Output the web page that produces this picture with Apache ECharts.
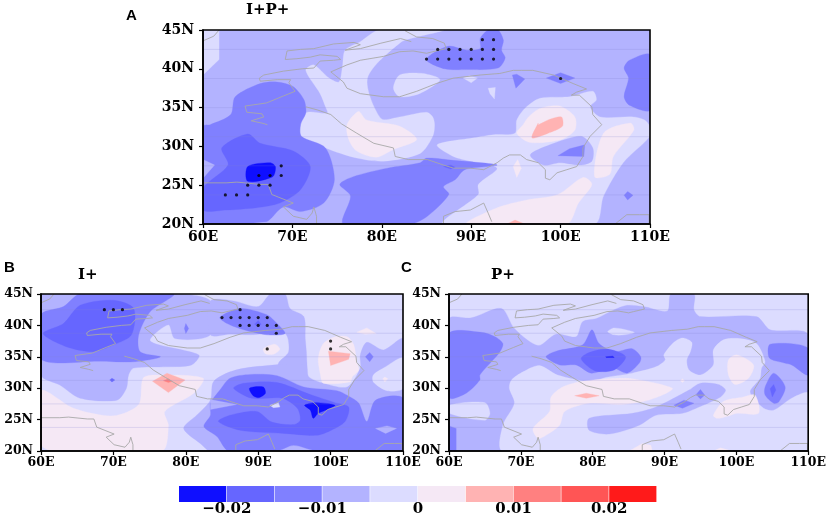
<!DOCTYPE html>
<html><head><meta charset="utf-8">
<style>html,body{margin:0;padding:0;background:#fff}#c{width:829px;height:518px}</style>
<script src="https://cdn.jsdelivr.net/npm/echarts@6/dist/echarts.min.js"></script>
</head><body><div id="c"></div>
<script>
// colour classes, low to high
const levelColors=['#0f0fff','#6666ff','#8080ff','#b3b3ff','#dcdcff','#f5e8f5','#ffb3b3','#ff8080','#ff5555','#ff1a1a'];
const levelEdges=[-0.025,-0.02,-0.015,-0.01,-0.005,0,0.005,0.01,0.015,0.02,0.025];
const whole=[[60,20],[110,20],[110,45],[60,45]];
// filled contour regions: [colour class, [lon,lat]...], painted in order
const regionsA=[
[3,whole],
[4,[[60,45],[61.8,45],[61.8,41.2],[60,39.2]]],
[4,[[79.7,45],[86.9,45],[84.3,44.2],[82.1,43.4],[78.4,38.8],[79.9,33.6],[82,33.8],[85,34.4],[85.7,33.8],[85.9,32.8],[85.7,31.3],[84.3,29.1],[80.2,28.1],[77.2,28.5],[73.7,29.8],[71,31.3],[71.5,34.3],[73.9,34.3],[73.7,35.1],[73.1,36.8],[71.5,39.8],[72.4,40.5],[74.1,38.8],[75.2,38.3],[75.6,40.3],[75.9,42.4],[77.6,43.5]]],
[4,[[81.3,37.5],[82,39.2],[84.6,39.4],[86.5,38.6],[84.2,36.8],[82,36.4]]],
[5,[[76.1,32.8],[77.4,34.5],[78.3,33.4],[82,32.6],[83.9,30.9],[81.3,29.6],[79.4,28.6],[77.2,29.4],[76.3,30.9]]],
[4,[[86.2,30.2],[90.3,31.1],[92.5,31.5],[94.9,31.7],[95.1,33.4],[96,34.9],[97.7,36.2],[101,36.4],[103.6,37.1],[104,36],[103.3,35.1],[104.4,33.8],[108.1,33.8],[109.4,33.4],[110,32.5],[110,31.3],[107,27.9],[104.8,23.6],[103.8,20],[86.9,20],[90.8,23.8],[90.8,25.1],[92.9,27.2],[89.9,28.1],[88,28.7]]],
[3,[[96.6,28.9],[98.8,30.2],[102.3,31.3],[103.6,29.8],[103.5,28.1],[102.2,27.6],[99.9,27.9],[98.1,27.6]]],
[2,[[99.7,28.8],[101,29.7],[102.7,30.2],[102.6,28.7]]],
[5,[[95.2,28.3],[95.6,27.2],[95.1,26],[94.7,27.4]]],
[5,[[104.8,31.7],[107.8,33],[108.2,32.1],[105.9,28.7],[105.5,26.4],[103.8,26.1]]],
[5,[[99.7,23.8],[102.5,26],[103.5,25.1],[102,22.7],[100.7,20],[89.5,20],[92.9,22.1],[96.2,23.1]]],
[6,[[94,20],[94.9,20.5],[96,20]]],
[5,[[96.4,33.8],[97.7,34.9],[99.9,35.2],[101.6,33.8],[101.6,32.1],[100.1,30.9],[96.6,30.5],[95.1,31.7],[95.8,32.8]]],
[6,[[97.5,32.8],[98.8,33.5],[100.1,33.8],[100.2,32.6],[98.6,31.7],[96.8,31.1],[97.5,33]]],
[2,[[107.1,40.1],[107.7,41.1],[110,41.8],[110,34.7],[107.7,35.3],[107.1,36.4],[107.6,38.8]]],
[2,[[94.6,39.2],[95.1,39.3],[96,38.7],[95,37.5]]],
[2,[[98.4,38.8],[100,39.5],[101.6,38.8],[100,38.1]]],
[4,[[89.1,38.8],[89.8,39.1],[90.7,38.8],[90,38.2]]],
[4,[[91.9,37.5],[92.7,37.6],[92.6,36.1],[92.1,36.8]]],
[2,[[85,41.2],[87.4,42.9],[89.5,42.4],[91,42.6],[91,43.9],[91.9,45],[93,45],[93.6,43.7],[93.4,42.4],[93.8,41.4],[93,40.1],[89.5,39.9],[87,40]]],
[2,[[84.3,27.9],[80.6,27.2],[76.8,26.1],[75.3,25.1],[76.5,23.6],[75.7,20],[83.2,20],[85.1,21],[87.5,23.8],[86.9,24.8],[88.2,25.7],[89.3,27],[92.9,27.6],[88,28.2],[85,28.5]]],
[1,[[86.9,27.4],[87.7,27.6],[88.2,27.3],[87.7,27.1]]],
[2,[[107.1,23.7],[107.5,24.2],[108.1,23.7],[107.5,23.1]]],
[2,[[60,32.6],[60.8,32.8],[63.1,34.1],[63.6,36.4],[66.4,38.1],[68.3,38.3],[70.1,37.7],[71.3,36],[71.5,34.3],[70.9,32.8],[71,31.3],[73.7,29.8],[74.7,25.7],[73.5,22.7],[70.9,21.6],[69,22.2],[67.5,20.6],[67.1,20.3],[60,20.3]]],
[3,[[60,28.3],[61.3,27.6],[60,25.9]]],
[1,[[60,24.6],[62.8,27.6],[62.1,29.8],[65,31.6],[66.4,30.4],[70.1,29.4],[72,27.4],[70.9,24.4],[68.6,22.7],[66,22.1],[62.6,21.8],[60,21.8]]],
[0,[[65,27.4],[67.5,27.9],[68.1,27.4],[67.8,26.1],[65,25.5]]]
];
const regionsB=[
[4,whole],
[5,[[60,29.6],[64.5,26.8],[70,25.6],[73.5,27.4],[74.1,31.6],[75.9,32.1],[82.4,31.6],[81.1,29.2],[77.1,26.3],[77.6,24.1],[76.7,20],[61.9,20],[60,21]]],
[6,[[75.4,31.1],[77.4,32.4],[79.9,31.3],[77.6,29.3]]],
[7,[[76.9,31.2],[77.6,31.5],[78.1,31.1],[77.6,30.9]]],
[3,[[60,45],[78.5,45],[83.4,43.9],[83.4,38.5],[78.5,37.9],[77.6,40.1],[75.1,37.5],[81.8,35.3],[80.8,33.7],[77.4,33.4],[72.8,33.2],[72.1,32.1],[71.8,30],[70.5,28.1],[65.4,28.4],[62.6,30.5],[60,32.1]]],
[3,[[83.4,43.9],[86.6,43.9],[90,43],[91.7,45],[93.7,45],[94.4,42.7],[96.3,41.4],[96.5,37.9],[96.7,34.8],[96.5,32.1],[92.8,32.1],[92.8,34],[94.2,35.8],[93.7,38.7],[88.9,38.5],[86.1,38.6],[83.4,38.5]]],
[3,[[79.7,23.6],[81.5,25.7],[83.4,28.1],[83.8,31],[86.1,32.6],[89.4,33.4],[96.5,33.7],[97,31.8],[99,30.8],[102.3,30.2],[104.1,33.2],[104.1,35.3],[105,37.3],[107.3,36.1],[110,37.8],[110,20],[83.4,20],[82,21.2]]],
[4,[[105.9,32.1],[107.3,33.2],[110,34.8],[110,30],[107.8,29.6],[105.9,31]]],
[5,[[107.2,31.5],[107.5,31.8],[107.9,31.5],[107.5,31]]],
[2,[[104.8,35],[105.4,35.7],[105.9,35],[105.4,34.2]]],
[5,[[98.3,34.8],[99,37.1],[100.6,38.2],[102.3,38.2],[103.2,36.9],[103.6,34.2],[103.9,32.9],[103,31.8],[102.7,31],[99,30.8],[98.6,32.1]]],
[6,[[99.7,35.9],[102.7,35.5],[102.5,34.6],[100,33.6]]],
[2,[[84.7,41.3],[87.5,42.7],[91.2,41.7],[92.6,40.3],[93.7,38.7],[91.2,38.5],[88,39.3],[85.7,40.3]]],
[1,[[89.5,40.2],[90,40.8],[90.4,40.2],[90,39.8]]],
[5,[[90.7,36.3],[92.3,37],[93,36.2],[92.1,35.4],[91,35.5]]],
[5,[[103.6,38.9],[105,39.6],[106.3,38.7],[104.8,38.6]]],
[2,[[60,41.7],[63.1,43],[65.4,45],[78.3,45],[75.1,42.2],[73.5,38.5],[73.7,35.8],[76.5,35],[72.8,34.2],[68.2,34.3],[60,34.6]]],
[1,[[60.3,38.7],[63.1,40.3],[65.4,43.2],[70,44],[72.8,42.7],[72.5,38.5],[70,36.9],[67.2,35.8],[63.5,36.6]]],
[2,[[79.8,39.5],[80,40.3],[80.4,39.5],[80,38.7]]],
[1,[[69.5,31.3],[69.8,31.6],[70.2,31.3],[69.8,31]]],
[2,[[83.4,27.6],[84.7,29.7],[86.1,31.6],[88.9,32.2],[92.6,32],[96.3,30.2],[100.9,29.6],[102.7,28.6],[103.9,27.6],[105,24.7],[106.2,28.1],[110,28.4],[110,20],[98.1,20],[94.9,20.9],[92.6,20],[85.9,20],[84.3,22.3],[82.5,23.9],[83.4,25.7]]],
[3,[[83.4,28.2],[87,27.4],[83.4,26.6]]],
[1,[[86.6,30],[88,30.8],[92.6,30.9],[97.2,29],[100.6,27.7],[102.5,27],[102,24.7],[99.9,23.2],[98.1,22.5],[93.5,22.8],[87.5,23.3],[84.5,24.7],[86.1,25.7],[89.8,26.3],[91.9,24.6],[94.9,24.2],[95.8,24.9],[95.4,26.8],[93.3,28.4],[89.1,28.4]]],
[0,[[88.8,30],[90.7,30.2],[91,29.2],[90.1,28.5],[89.3,28.8]]],
[0,[[96.4,27.3],[97.9,27.7],[100.6,27.3],[99.3,26.5],[98.3,26],[97.6,25.2],[97.2,26.5]]],
[4,[[91.6,27.3],[92.8,27.7],[93,27],[92.1,26.9]]],
[3,[[106.2,23.6],[107.8,24],[109.1,23.6],[107.6,22.8]]]
];
const regionsC=[
[4,whole],
[3,[[60,41],[63.1,41.2],[67.3,42.7],[69.1,39.5],[72.4,36.8],[74.9,38.6],[77.7,38.2],[78.6,40.6],[80.5,41.1],[83,42.5],[84.8,43.2],[87.1,43],[90.4,42.3],[90.9,45],[94.1,45],[94.1,42.5],[95,41.4],[102.8,41.4],[104.7,39.3],[110,38.5],[110,20],[60,20]]],
[4,[[82.1,39],[83,39.6],[85.8,38.9],[84.4,38.5],[83,38.5]]],
[4,[[68.7,31.3],[70.3,32.6],[72.6,33.6],[75.1,32.1],[79.8,31],[81.8,31.7],[85.5,32.4],[88.8,33.4],[90.1,34.5],[89.9,35.3],[91.3,37.3],[92.5,38],[93.8,37.3],[93.6,35.8],[93.1,34.5],[93.4,32.9],[95,32.1],[96.8,33.7],[96.8,36.1],[98.2,37.7],[100.5,37.9],[102.8,37.1],[104,34.2],[103.5,33.2],[103.3,31.6],[101.9,29.4],[103.8,26.8],[105.2,26.5],[107.7,28.4],[110,29.2],[110,20],[67.5,20],[67.5,24.1],[69.1,27.6],[68.4,30]]],
[5,[[71.7,23.6],[74,26.3],[74.2,28.6],[75.8,30.2],[78.1,31],[82.1,31.5],[85.5,31.5],[91.1,30],[89.7,28.9],[87.1,27.9],[83.7,27.4],[79.5,27.6],[76.1,26.3],[75.4,24.1],[73.5,22.5],[72.4,22]]],
[6,[[77.5,28.8],[79.1,29.2],[80.9,28.8],[79.1,28.4]]],
[5,[[92.2,31.2],[92.5,31.5],[92.8,31.2],[92.5,30.9]]],
[5,[[96.8,25.7],[98.2,27.9],[101,28.6],[102.6,28.9],[103.1,26],[100.1,26],[98.7,25.5],[97.3,25.2]]],
[5,[[98.9,34.5],[100.1,35.3],[102.4,33.7],[101.7,31.6],[99.8,30.6],[98.9,32.1]]],
[5,[[85.1,20],[86.9,21.2],[88.1,20.9],[88.3,20]]],
[5,[[96.8,20],[97.8,20.5],[99.4,20]]],
[3,[[79.5,25.2],[85.5,26],[88.8,27],[93.4,29.7],[95,30.8],[97.5,30.6],[98.5,29.7],[97.8,28.6],[94.8,27],[92.5,26],[88.8,25.7],[86.5,24.1],[82.3,22.7],[79.5,23.3]]],
[2,[[91.3,27.3],[92.7,28.1],[94.1,27.6],[92.5,26.8]]],
[2,[[94.4,29],[95,29.8],[95.6,28.9],[95,28.3]]],
[4,[[60,27.3],[65,27.7],[65.7,26],[65,24.9],[60,26]]],
[2,[[60,24],[61,23.6],[61,20],[60,20]]],
[2,[[60,38.7],[64.5,38.9],[66.4,38.2],[67.5,37.1],[67.1,35.8],[65.9,34.2],[64.3,32.1],[64.3,31.3],[62.4,29.2],[60,28.5]]],
[2,[[104.7,37],[110,36.4],[110,32.1],[107.7,33.7],[106.7,34],[104.6,34.8]]],
[2,[[73.5,35],[74.9,35.9],[78.6,36.9],[79.9,39.3],[80.9,37.1],[83,35.8],[85.5,36.3],[86.7,35],[86.5,34],[84.8,32.4],[82.8,33.2],[79.8,32.4],[77.7,33.7],[75.4,33.7]]],
[1,[[78.4,34.8],[79.8,35.8],[82.3,36.2],[84.6,35],[83,32.9],[80.5,32.7],[79.1,33.7]]],
[0,[[81.8,35],[82.8,35.1],[83,34.9],[81.9,34.9]]],
[2,[[104,30.2],[105.2,32.4],[106.8,30.2],[105.9,27.8],[105.2,27.6],[104,28.9]]],
[1,[[104.7,29.9],[105.2,30.6],[105.5,29.7],[105,28.6]]]
];
// significance dots [lon,lat]
const dotsA=[[91.25,43.75],[92.5,43.75],[86.25,42.5],[87.5,42.5],[88.75,42.5],[90,42.5],[91.25,42.5],[92.5,42.5],[85,41.25],[86.25,41.25],[87.5,41.25],[88.75,41.25],[90,41.25],[91.25,41.25],[92.5,41.25],[100,38.75],[68.75,27.5],[66.25,26.25],[67.5,26.25],[68.75,26.25],[65,25],[66.25,25],[67.5,25],[62.5,23.75],[63.75,23.75],[65,23.75]];
const dotsB=[[68.75,42.5],[70,42.5],[71.25,42.5],[87.5,42.5],[85,41.25],[86.25,41.25],[87.5,41.25],[88.75,41.25],[90,41.25],[91.25,41.25],[87.5,40],[88.75,40],[90,40],[91.25,40],[92.5,40],[92.5,38.75],[91.25,36.25],[100,37.5],[100,36.25]];
const dotsC=[];
// country outlines [lon,lat]
const outlines=[
[[60,43.6],[61.2,44.2],[61.8,45]],
[[69.2,41.2],[69.4,42.3],[70.9,42.5],[72.4,42.6],[74.6,43.2],[76.9,43.4],[77.6,43.1],[75.9,42.4],[77.6,42.6],[79.9,43.3],[82.1,43.9],[83.3,43.5]],
[[69.2,41.2],[70.5,41.3],[72,41.5],[73.1,41.8],[75,41.6],[75.4,41.2],[74.6,41.1],[73.1,41],[72.4,40.1],[71.1,40],[69,39.7],[66.8,39.2],[66.3,38.8],[66.4,38.4],[68.3,38.6],[69.8,38.6],[69.6,38.2],[70.3,37.1],[69,36.5],[67.1,35.6],[64.7,35.2],[64.9,34.4],[66.6,34.2],[66.8,33.8],[65.4,33.3],[66.6,33],[67.2,32.8]],
[[71.5,35.1],[72.8,34.7],[74.3,34.1],[75,33.4],[75.5,32.9],[77.2,31.7],[79.1,30.4],[81.3,29.8],[81.5,28.7],[83,28.3],[85.1,28.3],[86.9,27.6],[88,27.2],[89.9,27.2],[91.4,27],[92.9,27.9],[93.6,28.5],[94.3,28.9],[95.5,28.9],[96.2,28.3],[97.5,27.9],[98.3,27],[98.3,25.9],[98.8,25.7],[99.6,26.6],[100.7,27],[101.8,27.4],[102.5,28.7],[102.5,29.8],[103.3,31.3],[104.6,32.8],[103.6,34.1],[103.5,35.1],[102.1,36.6],[101.2,36.6],[101.8,37],[102.9,37.4],[101.4,38.1],[99.2,39.2],[96.9,39.8],[95.6,39.8],[94.7,39.8],[93.2,39.4],[91,39.2],[88,38.8],[86.1,38.1],[83.9,37.1],[82,36.4],[80.2,36.4],[77.6,36.8],[76.1,37.5],[75.7,38.3],[74.3,39.6],[76.1,40.5],[77.6,41.1],[80.2,41.6],[82,42.2],[83.5,42.3],[85,42],[85.7,42.2],[87.2,42.6],[87,43.3],[85.7,43.9],[83.9,44.1],[82.6,44.9]],
[[60,25.3],[62.6,25.3],[63.8,25.4],[66.4,25.1],[67.3,25.1],[67.7,23.8],[70.1,22.7],[69,22.2],[70.1,21],[71.6,20.6],[72.2,21.4],[72.4,22.2],[72.7,21],[72.7,20.1]],
[[86.9,20.1],[86.9,21],[88.2,21.6],[89.9,21.8],[91.4,22.7],[91.9,21.4],[92.3,20.3]],
[[106.2,20.1],[107.4,21.2],[108.8,21.2],[109.9,21.2],[109.9,20.1]]
];
const faintLats=[42.5,38.75,35,31.25,27.5,23.75];
const xTicks={min:60,max:110,interval:10};
const yTicks={min:20,max:45,interval:5};
const barLabels=[-0.02,-0.01,0,0.01,0.02];

const SERIF='"DejaVu Serif"';
const panels=[
 {left:203,top:30,width:447,height:194,regions:regionsA,dots:dotsA,font:14,xm:6,ym:9},
 {left:41,top:294,width:362,height:157,regions:regionsB,dots:dotsB,font:12.5,xm:5,ym:8},
 {left:449,top:294,width:361,height:157,regions:regionsC,dots:dotsC,font:12.5,xm:5,ym:8}
];
const grids=[],xAxes=[],yAxes=[],series=[];
panels.forEach((p,i)=>{
 grids.push({left:p.left,top:p.top,width:p.width,height:p.height,show:true,z:6,borderColor:'#000',borderWidth:1.6,backgroundColor:'transparent'});
 const lbl={color:'#000',fontFamily:SERIF,fontWeight:'bold',fontSize:p.font};
 xAxes.push({gridIndex:i,type:'value',...xTicks,z:7,splitLine:{show:false},axisLine:{show:true,lineStyle:{color:'#000',width:1.6}},axisTick:{show:true,length:4,lineStyle:{color:'#000',width:1.2}},axisLabel:{...lbl,margin:p.xm,hideOverlap:false,showMinLabel:true,showMaxLabel:true,formatter:v=>v+'E'}});
 yAxes.push({gridIndex:i,type:'value',...yTicks,z:7,splitLine:{show:false},axisLine:{show:true,lineStyle:{color:'#000',width:1.6}},axisTick:{show:true,length:4,lineStyle:{color:'#000',width:1.2}},axisLabel:{...lbl,margin:p.ym,hideOverlap:false,showMinLabel:true,showMaxLabel:true,formatter:v=>v+'N'}});
 series.push({type:'custom',xAxisIndex:i,yAxisIndex:i,z:2,silent:true,animation:false,clip:true,
  data:p.regions.map(r=>r[1][0]),
  renderItem:(params,api)=>{const r=p.regions[params.dataIndex];
   return {type:'polygon',shape:{points:r[1].map(c=>api.coord(c)),smooth:r[1].length>4?0.28:0},style:{fill:levelColors[r[0]],stroke:levelColors[r[0]],lineWidth:0.3}};}});
 faintLats.forEach(lat=>series.push({type:'line',xAxisIndex:i,yAxisIndex:i,z:3,silent:true,animation:false,showSymbol:false,
  data:[[60,lat],[110,lat]],lineStyle:{color:'rgba(130,130,210,0.22)',width:1}}));
 outlines.forEach(o=>series.push({type:'line',xAxisIndex:i,yAxisIndex:i,z:4,silent:true,animation:false,showSymbol:false,
  data:o,lineStyle:{color:'#a8a8a8',width:0.9}}));
 if(p.dots.length)series.push({type:'scatter',xAxisIndex:i,yAxisIndex:i,z:5,silent:true,animation:false,symbolSize:3.2,data:p.dots,itemStyle:{color:'#000'}});
});
// colour bar
grids.push({left:179,top:486,width:478,height:16,show:false});
xAxes.push({gridIndex:3,type:'value',min:-0.025,max:0.025,interval:0.005,splitLine:{show:false},axisLine:{show:false},axisTick:{show:false},
 axisLabel:{color:'#000',fontFamily:SERIF,fontWeight:'bold',fontSize:15,margin:0,hideOverlap:false,showMinLabel:true,showMaxLabel:true,
 formatter:v=>{const r=Math.round(v*1000)/1000;return barLabels.includes(r)?(r<0?'\u2212':'')+Math.abs(r):'';}}});
yAxes.push({gridIndex:3,type:'value',min:0,max:1,show:false});
series.push({type:'custom',xAxisIndex:3,yAxisIndex:3,silent:true,animation:false,
 data:levelColors.map((c,i)=>[levelEdges[i],levelEdges[i+1]]),
 renderItem:(params,api)=>{const a=api.coord([api.value(0),0]),b=api.coord([api.value(1),1]);
  return {type:'rect',shape:{x:a[0],y:b[1],width:b[0]-a[0]-0.6,height:a[1]-b[1]},style:{fill:levelColors[params.dataIndex]}};},
 encode:{x:[0,1]}});
const sans={fontFamily:'"Liberation Sans"',fontWeight:'bold',fontSize:15,color:'#000'};
const ser={fontFamily:SERIF,fontWeight:'bold',fontSize:15,color:'#000'};
const title=[
 {text:'A',left:126,top:8,textStyle:sans,padding:0},
 {text:'B',left:4,top:260,textStyle:sans,padding:0},
 {text:'C',left:401,top:260,textStyle:sans,padding:0},
 {text:'I+P+',left:246,top:3,textStyle:ser,padding:0},
 {text:'I+',left:78,top:268,textStyle:ser,padding:0},
 {text:'P+',left:491,top:268,textStyle:ser,padding:0}
];
const chart=echarts.init(document.getElementById('c'),null,{renderer:'canvas'});
chart.setOption({animation:false,backgroundColor:'#fff',title,grid:grids,xAxis:xAxes,yAxis:yAxes,series,tooltip:{show:false}});
</script></body></html>
